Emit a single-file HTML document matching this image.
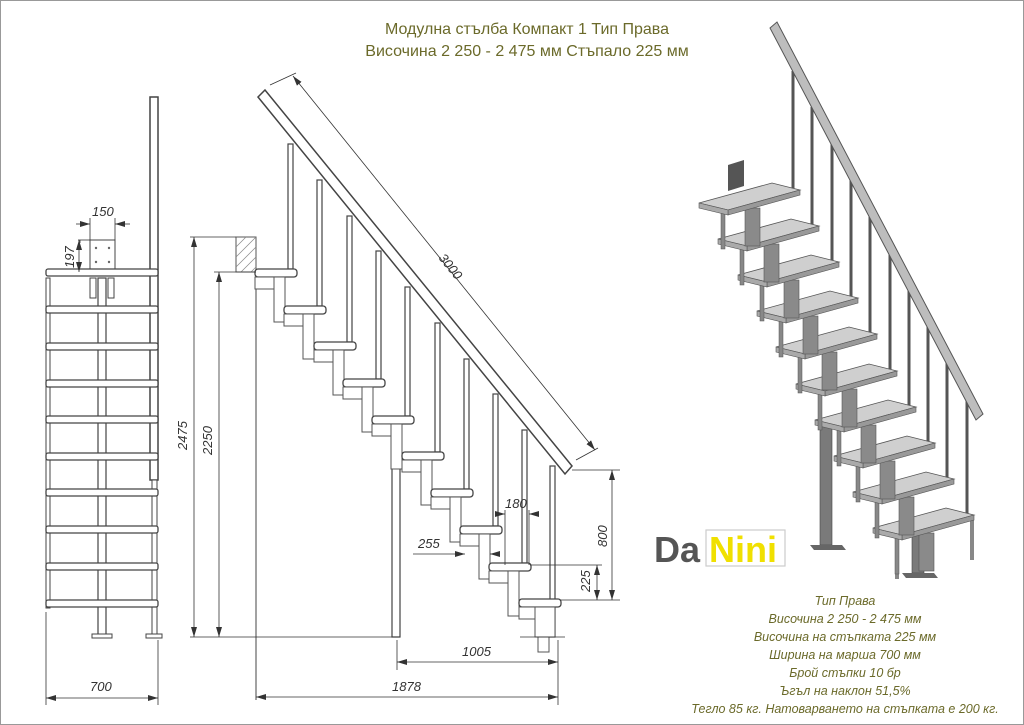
<!DOCTYPE html>
<html><head><meta charset="utf-8"><style>
html,body{margin:0;padding:0;background:#fff}
svg{display:block}
.t{font-family:"Liberation Sans",sans-serif;fill:#6b6a2a}
.d{font-family:"Liberation Sans",sans-serif;font-style:italic;font-size:13px;fill:#333}
</style></head><body>
<svg width="1024" height="725" viewBox="0 0 1024 725" xmlns="http://www.w3.org/2000/svg">
<defs>
<marker id="a" viewBox="0 0 10 6" refX="10" refY="3" markerWidth="10" markerHeight="6" orient="auto-start-reverse" markerUnits="userSpaceOnUse"><path d="M0,0L10,3L0,6z" fill="#333"/></marker>
<g id="st">
<rect x="0" y="-4" width="42" height="8" rx="3" fill="#fff" stroke="#444" stroke-width="1.3"/>
<rect x="0" y="4" width="22" height="12" fill="#fff" stroke="#555"/>
<rect x="19" y="4" width="11" height="45" fill="#fff" stroke="#555"/>
</g>
<g id="tr">
<line x1="793" y1="71" x2="793" y2="189" stroke="#555" stroke-width="3"/>
<rect x="745" y="208" width="15" height="38" fill="#8a8a8a" stroke="#555" stroke-width=".6"/>
<rect x="721" y="213" width="4" height="36" fill="#888" stroke="#555" stroke-width=".5"/>
<polygon points="699,203 772,183 800,190 728,210" fill="#cfcfcf" stroke="#555" stroke-width=".8"/>
<polygon points="728,210 800,190 800,195 728,215" fill="#999" stroke="#555" stroke-width=".6"/>
<polygon points="699,203 728,210 728,215 699,208" fill="#aaa" stroke="#555" stroke-width=".6"/>
</g>
</defs>

<text class="t" x="527" y="34" font-size="16" text-anchor="middle">Модулна стълба Компакт 1 Тип Права</text>
<text class="t" x="527" y="56" font-size="16" text-anchor="middle">Височина 2 250 - 2 475 мм Стъпало 225 мм</text>

<!-- FRONT VIEW -->
<g stroke="#444" fill="#fff">
<rect x="98" y="278" width="8" height="358" stroke-width="1.2"/>
<rect x="150" y="97" width="8" height="383" stroke-width="1.5"/>
<rect x="46" y="278" width="4" height="330" stroke-width="1"/>
<rect x="152" y="480" width="5" height="156"/>
<rect x="90" y="240" width="25" height="32"/>
<rect x="90" y="278" width="6" height="20"/><rect x="108" y="278" width="6" height="20"/>
<rect x="46" y="269" width="112" height="7" rx="2" stroke-width="1.3"/>
<rect x="46" y="306" width="112" height="7" rx="2" stroke-width="1.3"/>
<rect x="46" y="343" width="112" height="7" rx="2" stroke-width="1.3"/>
<rect x="46" y="380" width="112" height="7" rx="2" stroke-width="1.3"/>
<rect x="46" y="416" width="112" height="7" rx="2" stroke-width="1.3"/>
<rect x="46" y="453" width="112" height="7" rx="2" stroke-width="1.3"/>
<rect x="46" y="489" width="112" height="7" rx="2" stroke-width="1.3"/>
<rect x="46" y="526" width="112" height="7" rx="2" stroke-width="1.3"/>
<rect x="46" y="563" width="112" height="7" rx="2" stroke-width="1.3"/>
<rect x="46" y="600" width="112" height="7" rx="2" stroke-width="1.3"/>
<rect x="92" y="634" width="20" height="4"/><rect x="146" y="634" width="16" height="4"/>
</g>
<g fill="#666"><circle cx="96" cy="248" r="1.2"/><circle cx="109" cy="248" r="1.2"/><circle cx="96" cy="262" r="1.2"/><circle cx="109" cy="262" r="1.2"/></g>
<g stroke="#333" stroke-width=".8" fill="none">
<line x1="90" y1="240" x2="90" y2="218"/><line x1="115" y1="240" x2="115" y2="218"/>
<line x1="76" y1="224" x2="90" y2="224" marker-end="url(#a)"/><line x1="130" y1="224" x2="115" y2="224" marker-end="url(#a)"/>
<line x1="78" y1="240" x2="90" y2="240"/>
<line x1="80" y1="243" x2="80" y2="240" />
<line x1="79" y1="240" x2="79" y2="272" marker-start="url(#a)" marker-end="url(#a)"/>
<line x1="46" y1="612" x2="46" y2="705"/><line x1="158" y1="640" x2="158" y2="705"/>
<line x1="46" y1="698" x2="158" y2="698" marker-start="url(#a)" marker-end="url(#a)"/>
</g>
<text class="d" x="92" y="216">150</text>
<text class="d" transform="translate(74,268) rotate(-90)">197</text>
<text class="d" x="90" y="691">700</text>

<!-- SIDE VIEW -->
<rect x="236" y="237" width="20" height="35" fill="#fff" stroke="#555"/>
<g stroke="#888" stroke-width=".7">
<line x1="236" y1="247" x2="246" y2="237"/><line x1="236" y1="257" x2="256" y2="237"/><line x1="236" y1="267" x2="256" y2="247"/><line x1="241" y1="272" x2="256" y2="257"/><line x1="251" y1="272" x2="256" y2="267"/>
</g>
<line x1="256" y1="272" x2="256" y2="700" stroke="#444" stroke-width="1"/>
<rect x="392" y="452" width="8" height="185" fill="#fff" stroke="#444" stroke-width="1.2"/>
<g stroke="#444" stroke-width="1.2" fill="#fff">
<rect x="288" y="144" width="5" height="125"/>
<rect x="317" y="180" width="5" height="126"/>
<rect x="347" y="216" width="5" height="126"/>
<rect x="376" y="251" width="5" height="128"/>
<rect x="405" y="287" width="5" height="129"/>
<rect x="435" y="323" width="5" height="129"/>
<rect x="464" y="359" width="5" height="130"/>
<rect x="493" y="394" width="5" height="132"/>
<rect x="522" y="430" width="5" height="133"/>
<rect x="550" y="466" width="5" height="171"/>
</g>
<use href="#st" x="255" y="273"/>
<use href="#st" x="284" y="310"/>
<use href="#st" x="314" y="346"/>
<use href="#st" x="343" y="383"/>
<use href="#st" x="372" y="420"/>
<use href="#st" x="402" y="456"/>
<use href="#st" x="431" y="493"/>
<use href="#st" x="460" y="530"/>
<use href="#st" x="489" y="567"/>
<use href="#st" x="519" y="603"/>
<rect x="535" y="607" width="20" height="30" fill="#fff" stroke="#555"/>
<polygon points="258,97 265,90 572,466 565,474" fill="#fff" stroke="#444" stroke-width="1.5"/>
<g stroke="#333" stroke-width=".8" fill="none">
<line x1="270" y1="85" x2="296" y2="73"/>
<line x1="576" y1="460" x2="598" y2="448"/>
<line x1="293" y1="76" x2="595" y2="450" marker-start="url(#a)" marker-end="url(#a)"/>
<line x1="190" y1="237" x2="236" y2="237"/>
<line x1="194" y1="237" x2="194" y2="637" marker-start="url(#a)" marker-end="url(#a)"/>
<line x1="214" y1="272" x2="256" y2="272"/>
<line x1="219" y1="272" x2="219" y2="637" marker-start="url(#a)" marker-end="url(#a)"/>
<line x1="190" y1="637" x2="400" y2="637"/>
<line x1="520" y1="637" x2="565" y2="637"/>
<line x1="572" y1="470" x2="620" y2="470"/>
<line x1="612" y1="470" x2="612" y2="600" marker-start="url(#a)" marker-end="url(#a)"/>
<line x1="560" y1="600" x2="620" y2="600"/>
<line x1="530" y1="565" x2="602" y2="565"/>
<line x1="597" y1="565" x2="597" y2="600" marker-start="url(#a)" marker-end="url(#a)"/>
<line x1="505" y1="510" x2="505" y2="565"/>
<line x1="529" y1="510" x2="529" y2="565"/>
<line x1="500" y1="514" x2="505" y2="514" marker-end="url(#a)"/><line x1="534" y1="514" x2="529" y2="514" marker-end="url(#a)"/>
<line x1="413" y1="554" x2="465" y2="554" marker-end="url(#a)"/><line x1="497" y1="554" x2="490" y2="554" marker-end="url(#a)"/>
<line x1="397" y1="640" x2="397" y2="670"/>
<line x1="558" y1="640" x2="558" y2="705"/>
<line x1="397" y1="662" x2="558" y2="662" marker-start="url(#a)" marker-end="url(#a)"/>
<line x1="256" y1="697" x2="558" y2="697" marker-start="url(#a)" marker-end="url(#a)"/>
</g>
<text class="d" transform="translate(438,258) rotate(51)">3000</text>
<text class="d" transform="translate(187,450) rotate(-90)">2475</text>
<text class="d" transform="translate(212,455) rotate(-90)">2250</text>
<text class="d" transform="translate(607,547) rotate(-90)">800</text>
<text class="d" transform="translate(590,592) rotate(-90)">225</text>
<text class="d" x="505" y="508">180</text>
<text class="d" x="418" y="548">255</text>
<text class="d" x="462" y="656">1005</text>
<text class="d" x="392" y="691">1878</text>

<!-- 3D VIEW -->
<polygon points="728,165 744,160 744,186 728,191" fill="#555"/>
<rect x="820" y="420" width="12" height="125" fill="#7a7a7a" stroke="#444" stroke-width=".6"/>
<polygon points="810,545 842,545 846,550 814,550" fill="#666"/>
<rect x="912" y="535" width="12" height="38" fill="#7a7a7a" stroke="#444" stroke-width=".6"/>
<polygon points="902,573 934,573 938,578 906,578" fill="#666"/>
<rect x="895" y="535" width="4" height="44" fill="#888"/>
<rect x="970" y="520" width="4" height="40" fill="#888"/>
<use href="#tr" x="174" y="325"/>
<use href="#tr" x="154" y="289"/>
<use href="#tr" x="135" y="253"/>
<use href="#tr" x="116" y="217"/>
<use href="#tr" x="97" y="181"/>
<use href="#tr" x="77" y="144"/>
<use href="#tr" x="58" y="108"/>
<use href="#tr" x="39" y="72"/>
<use href="#tr" x="19" y="36"/>
<use href="#tr" x="0" y="0"/>
<polygon points="770,28 777,22 983,414 976,420" fill="#bdbdbd" stroke="#555" stroke-width="1"/>

<!-- LOGO -->
<rect x="706" y="530" width="79" height="36" fill="#fff" stroke="#ccc" stroke-width="1.2"/>
<text x="654" y="562" font-family="Liberation Sans,sans-serif" font-weight="bold" font-size="36" fill="#555">Da</text>
<text x="709" y="562" font-family="Liberation Sans,sans-serif" font-weight="bold" font-size="36" fill="#f0e000">Nini</text>

<g class="t" font-size="12.5" font-style="italic" text-anchor="middle">
<text x="845" y="605">Тип Права</text>
<text x="845" y="623">Височина 2 250 - 2 475 мм</text>
<text x="845" y="641">Височина на стъпката 225 мм</text>
<text x="845" y="659">Ширина на марша 700 мм</text>
<text x="845" y="677">Брой стъпки 10 бр</text>
<text x="845" y="695">Ъгъл на наклон 51,5%</text>
<text x="845" y="713">Тегло 85 кг. Натоварването на стъпката е 200 кг.</text>
</g>
<rect x="0.5" y="0.5" width="1023" height="724" fill="none" stroke="#999"/>
</svg>
</body></html>
